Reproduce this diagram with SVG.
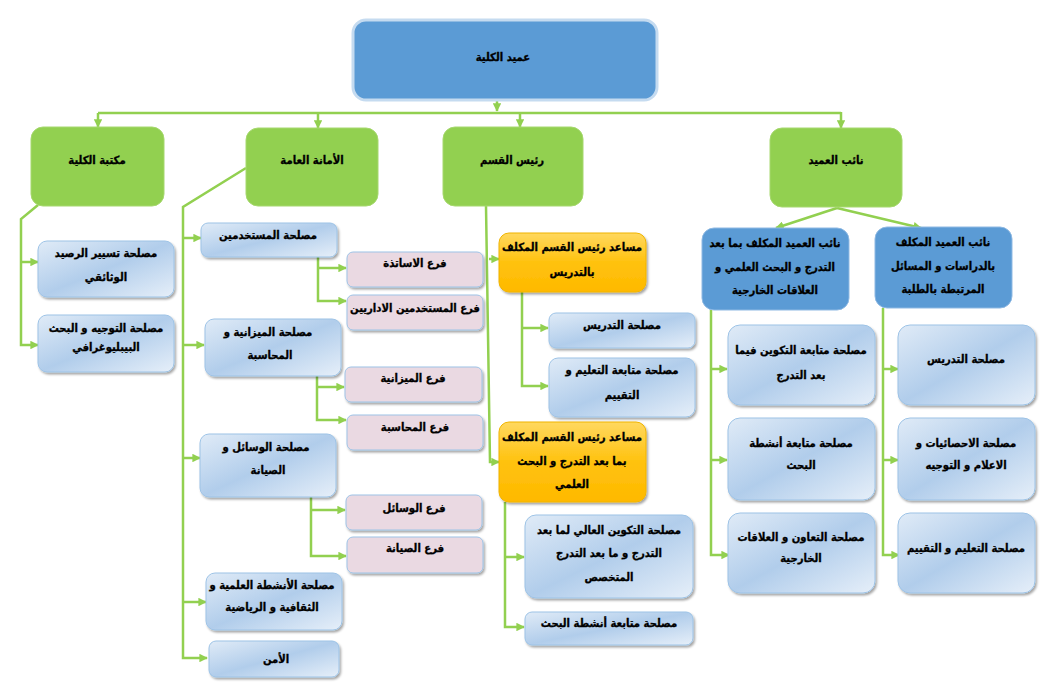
<svg xmlns="http://www.w3.org/2000/svg" width="1052" height="695" viewBox="0 0 1052 695">
<defs>
<linearGradient id="gBlue" x1="0" y1="0" x2="1" y2="1">
<stop offset="0" stop-color="#e0ebf7"/>
<stop offset="0.5" stop-color="#b1cdeb"/>
<stop offset="1" stop-color="#e6eff9"/>
</linearGradient>
<linearGradient id="gYel" x1="0" y1="0" x2="0" y2="1">
<stop offset="0" stop-color="#ffd85f"/>
<stop offset="0.5" stop-color="#ffc20e"/>
<stop offset="1" stop-color="#ffb900"/>
</linearGradient>
<filter id="sh" x="-10%" y="-10%" width="125%" height="135%">
<feDropShadow dx="1.5" dy="2" stdDeviation="1" flood-color="#000" flood-opacity="0.35"/>
</filter>
<marker id="ar" viewBox="0 0 10 10" refX="9" refY="5" markerWidth="3.4" markerHeight="3.4" orient="auto">
<path d="M0,0 L10,5 L0,10 z" fill="#92d050"/>
</marker>
</defs>
<style>
text{font-family:"DejaVu Sans Condensed","DejaVu Sans",sans-serif;font-weight:bold;font-size:11.2px;fill:#000;stroke:#000;stroke-width:0.3;text-anchor:middle}
.top{fill:#5b9bd5;stroke:#c5dbf0;stroke-width:3}
.grn{fill:#92d050;stroke:#a6d86e;stroke-width:1}
.hd{fill:#5b9bd5;stroke:#8fb9e3;stroke-width:1}
.sb{fill:url(#gBlue);stroke:#9dc3e6;stroke-width:1;filter:url(#sh)}
.pk{fill:#ead9e2;stroke:#9dc3e6;stroke-width:1;filter:url(#sh)}
.yl{fill:url(#gYel);stroke:#f0b400;stroke-width:1;filter:url(#sh)}
#connectors path{fill:none;stroke:#92d050;stroke-width:2.5}
#connectors path.a{marker-end:url(#ar)}
</style>
<rect width="1052" height="695" fill="#fff"/>

<g id="connectors">
<path class="a" d="M497,101 V111"/>
<path d="M98,113 H841"/>
<path class="a" d="M98,113 V127"/>
<path class="a" d="M318,113 V128"/>
<path class="a" d="M520,113 V127"/>
<path class="a" d="M841,112 V128"/>
<path class="a" d="M38,205 L21,219 V345 H38"/>
<path class="a" d="M21,262 H38"/>
<path class="a" d="M246,168 L183,207 V658 H207"/>
<path class="a" d="M183,238 H201"/>
<path class="a" d="M183,345 H204"/>
<path class="a" d="M183,458 H200"/>
<path class="a" d="M183,602 H206"/>
<path class="a" d="M318,257 V301 H346"/>
<path class="a" d="M318,268 H346"/>
<path class="a" d="M317,376 V420 H346"/>
<path class="a" d="M317,387 H344"/>
<path class="a" d="M311,497 V556 H346"/>
<path class="a" d="M311,510 H345"/>
<path class="a" d="M486,206 L490,462 H499"/>
<path class="a" d="M489,259 H499"/>
<path class="a" d="M522,292 V386 H548"/>
<path class="a" d="M522,328 H548"/>
<path class="a" d="M505,502 V627 H524"/>
<path class="a" d="M505,557 H524"/>
<path class="a" d="M837,208 L776,228"/>
<path class="a" d="M837,208 L921,228"/>
<path class="a" d="M711,310 V555 H729"/>
<path class="a" d="M711,369 H727"/>
<path class="a" d="M711,460 H727"/>
<path class="a" d="M883,308 V555 H899"/>
<path class="a" d="M883,369 H898"/>
<path class="a" d="M883,460 H898"/>
</g>

<g id="n-dean"><rect class="top" x="353" y="20" width="304" height="80" rx="13"/><text x="503" y="61">عميد الكلية</text></g>

<g id="n-library"><rect class="grn" x="31" y="127" width="133" height="79" rx="12"/><text x="97" y="164">مكتبة الكلية</text></g>
<g id="n-secretariat"><rect class="grn" x="246" y="128" width="132" height="78" rx="12"/><text x="312" y="164">الأمانة العامة</text></g>
<g id="n-head"><rect class="grn" x="443" y="127" width="140" height="79" rx="12"/><text x="512" y="164">رئيس القسم</text></g>
<g id="n-vicedean"><rect class="grn" x="770" y="128" width="132" height="79" rx="12"/><text x="836" y="164">نائب العميد</text></g>

<g id="n-vd-pg"><rect class="hd" x="702" y="228" width="147" height="82" rx="12"/><text x="775" y="247">نائب العميد المكلف بما بعد</text><text x="775" y="271">التدرج و البحث العلمي و</text><text x="775" y="294">العلاقات الخارجية</text></g>
<g id="n-vd-st"><rect class="hd" x="875" y="227" width="137" height="81" rx="12"/><text x="943" y="246">نائب العميد المكلف</text><text x="943" y="270">بالدراسات و المسائل</text><text x="943" y="293">المرتبطة بالطلبة</text></g>

<g id="n-l1"><rect class="sb" x="38" y="241" width="136" height="56" rx="9"/><text x="106" y="257">مصلحة تسيير الرصيد</text><text x="106" y="281">الوثائقي</text></g>
<g id="n-l2"><rect class="sb" x="38" y="315" width="136" height="57" rx="9"/><text x="106" y="332">مصلحة التوجيه و البحث</text><text x="106" y="351">البيبليوغرافي</text></g>

<g id="n-m1"><rect class="sb" x="201" y="223" width="136" height="34" rx="7"/><text x="268" y="239">مصلحة المستخدمين</text></g>
<g id="n-m2"><rect class="sb" x="205" y="319" width="136" height="57" rx="9"/><text x="268" y="336">مصلحة الميزانية و</text><text x="270" y="359">المحاسبة</text></g>
<g id="n-m3"><rect class="sb" x="200" y="434" width="136" height="63" rx="9"/><text x="266" y="451">مصلحة الوسائل و</text><text x="268" y="474">الصيانة</text></g>
<g id="n-m4"><rect class="sb" x="206" y="573" width="136" height="57" rx="9"/><text x="272" y="589">مصلحة الأنشطة العلمية و</text><text x="272" y="611">الثقافية و الرياضية</text></g>
<g id="n-m5"><rect class="sb" x="209" y="641" width="130" height="36" rx="7"/><text x="276" y="663">الأمن</text></g>

<g id="n-p1"><rect class="pk" x="347" y="252" width="136" height="35" rx="6"/><text x="415" y="267">فرع الاساتذة</text></g>
<g id="n-p2"><rect class="pk" x="347" y="295" width="136" height="35" rx="6"/><text x="415" y="312">فرع المستخدمين الاداريين</text></g>
<g id="n-p3"><rect class="pk" x="345" y="367" width="137" height="35" rx="6"/><text x="413" y="382">فرع الميزانية</text></g>
<g id="n-p4"><rect class="pk" x="347" y="415" width="136" height="35" rx="6"/><text x="415" y="431">فرع المحاسبة</text></g>
<g id="n-p5"><rect class="pk" x="346" y="495" width="136" height="35" rx="6"/><text x="414" y="512">فرع الوسائل</text></g>
<g id="n-p6"><rect class="pk" x="347" y="537" width="136" height="36" rx="6"/><text x="415" y="552">فرع الصيانة</text></g>

<g id="n-y1"><rect class="yl" x="499" y="233" width="147" height="59" rx="10"/><text x="572" y="251">مساعد رئيس القسم المكلف</text><text x="572" y="276">بالتدريس</text></g>
<g id="n-y2"><rect class="yl" x="499" y="422" width="147" height="80" rx="10"/><text x="572" y="441">مساعد رئيس القسم المكلف</text><text x="572" y="465">بما بعد التدرج و البحث</text><text x="572" y="488">العلمي</text></g>

<g id="n-c1"><rect class="sb" x="549" y="313" width="146" height="35" rx="7"/><text x="622" y="329">مصلحة التدريس</text></g>
<g id="n-c2"><rect class="sb" x="549" y="358" width="146" height="59" rx="9"/><text x="622" y="374">مصلحة متابعة التعليم و</text><text x="622" y="399">التقييم</text></g>
<g id="n-c3"><rect class="sb" x="525" y="515" width="168" height="83" rx="11"/><text x="609" y="534">مصلحة التكوين العالي لما بعد</text><text x="609" y="557">التدرج و ما بعد التدرج</text><text x="609" y="581">المتخصص</text></g>
<g id="n-c4"><rect class="sb" x="525" y="612" width="168" height="33" rx="7"/><text x="609" y="627">مصلحة متابعة أنشطة البحث</text></g>

<g id="n-r1"><rect class="sb" x="728" y="325" width="147" height="80" rx="12"/><text x="801" y="354">مصلحة متابعة التكوين فيما</text><text x="801" y="379">بعد التدرج</text></g>
<g id="n-r2"><rect class="sb" x="728" y="418" width="147" height="82" rx="12"/><text x="801" y="447">مصلحة متابعة أنشطة</text><text x="801" y="469">البحث</text></g>
<g id="n-r3"><rect class="sb" x="728" y="513" width="147" height="80" rx="12"/><text x="801" y="541">مصلحة التعاون و العلاقات</text><text x="801" y="562">الخارجية</text></g>

<g id="n-s1"><rect class="sb" x="898" y="325" width="137" height="80" rx="12"/><text x="966" y="363">مصلحة التدريس</text></g>
<g id="n-s2"><rect class="sb" x="898" y="418" width="137" height="82" rx="12"/><text x="966" y="447">مصلحة الاحصائيات و</text><text x="966" y="469">الاعلام و التوجيه</text></g>
<g id="n-s3"><rect class="sb" x="898" y="513" width="137" height="80" rx="12"/><text x="966" y="552">مصلحة التعليم و التقييم</text></g>
</svg>
